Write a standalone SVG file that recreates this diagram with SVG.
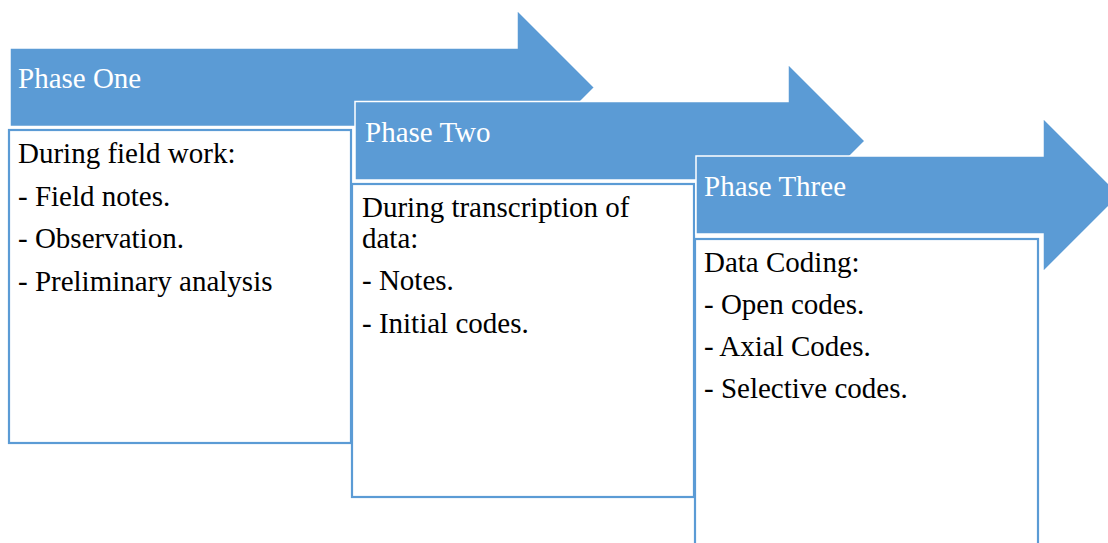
<svg xmlns="http://www.w3.org/2000/svg" width="1108" height="543" viewBox="0 0 1108 543">
<style>
.arrow{fill:#5B9BD5;stroke:#FFFFFF;stroke-width:1.5}
.box{fill:#FFFFFF;stroke:#5B9BD5;stroke-width:2.2}
.lbl{fill:#FFFFFF}
.txt{fill:#000000}
</style>
<rect width="1108" height="543" fill="#FFFFFF"/>
<g font-family="'Liberation Serif', 'DejaVu Serif', serif" font-size="29">
<g id="phase-one">
<polygon class="arrow" points="10,48 517,48 517,10 594.5,87.5 517,165 517,126.5 10,126.5"/>
<text class="lbl" x="18" y="88">Phase One</text>
</g>
<g id="phase-one-box">
<rect class="box" x="9" y="130" width="342" height="313"/>
<text class="txt" x="18" y="163">During field work:</text>
<text class="txt" x="18" y="205.5">- Field notes.</text>
<text class="txt" x="18" y="248">- Observation.</text>
<text class="txt" x="18" y="290.5">- Preliminary analysis</text>
</g>
<g id="phase-two">
<polygon class="arrow" points="355,101.5 788,101.5 788,64 865,141 788,218 788,180 355,180"/>
<text class="lbl" x="365" y="142">Phase Two</text>
</g>
<g id="phase-two-box">
<rect class="box" x="352" y="184" width="342" height="313"/>
<text class="txt" x="362" y="217">During transcription of</text>
<text class="txt" x="362" y="248">data:</text>
<text class="txt" x="362" y="290">- Notes.</text>
<text class="txt" x="362" y="332.5">- Initial codes.</text>
</g>
<g id="phase-three">
<polygon class="arrow" points="696,156 1043,156 1043,118 1120,195 1043,272 1043,234 696,234"/>
<text class="lbl" x="704" y="196">Phase Three</text>
</g>
<g id="phase-three-box">
<rect class="box" x="695" y="239" width="343" height="313"/>
<text class="txt" x="704" y="271.5">Data Coding:</text>
<text class="txt" x="704" y="313.5">- Open codes.</text>
<text class="txt" x="704" y="356">- Axial Codes.</text>
<text class="txt" x="704" y="398">- Selective codes.</text>
</g>
</g>
<g id="connectors"></g>
</svg>
